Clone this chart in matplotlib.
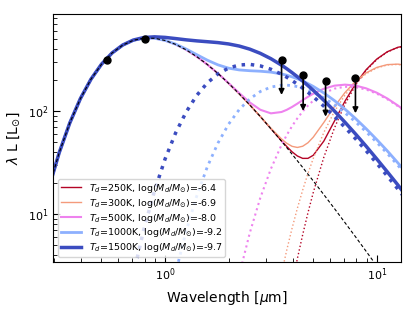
import numpy as np
import matplotlib
matplotlib.use('Agg')
from matplotlib import pyplot as plt

# wavelength grid [micron]
wave = [0.2818, 0.3162, 0.3548, 0.3981, 0.4467, 0.5012, 0.5623, 0.6310, 0.7079,
        0.7943, 0.8913, 1.0, 1.122, 1.259, 1.413, 1.585, 1.778, 1.995, 2.239,
        2.512, 2.818, 3.162, 3.548, 3.758, 3.981, 4.217, 4.467, 4.732, 5.012,
        5.623, 6.310, 7.079, 7.943, 8.913, 10.0, 11.22, 12.59, 14.13]

# stellar photosphere (black dashed)
star = [17.66, 39.39, 76.5, 131.6, 203.0, 284.1, 364.9, 434.6, 483.8, 507.8,
        506.0, 482.0, 441.4, 390.7, 335.6, 281.3, 230.8, 185.5, 146.8, 114.5,
        88.3, 67.3, 50.9, 44.1, 38.1, 32.9, 28.4, 24.4, 21.0, 15.46, 11.33,
        8.27, 6.02, 4.36, 3.15, 2.27, 1.64, 1.18]

# dust emission (dotted), 0 = negligible
dust_250 = [0]*22 + [0.55, 1.11, 2.08, 3.71, 6.32, 10.33, 16.2, 35.6, 68.4,
                     116.3, 177.8, 247.0, 315.0, 372.6, 412.5, 430.8]
dust_300 = [0]*20 + [0.20, 0.81, 2.66, 4.50, 7.31, 11.40, 17.1, 24.8, 34.7,
                     61.9, 98.9, 142.6, 188.2, 229.6, 261.0, 279.0, 282.6,
                     273.0]
dust_500 = [0]*16 + [0.23, 0.85, 2.57, 6.56, 14.4, 27.5, 46.8, 58.5, 71.3,
                     84.9, 98.9, 112.7, 125.9, 148.7, 164.5, 171.6, 170.1,
                     161.2, 147.1, 129.8, 111.2, 92.9]
dust_1000 = [0]*10 + [0.25, 0.90, 2.71, 6.92, 15.1, 28.9, 48.9, 74.4, 103.0,
                      130.9, 154.3, 170.5, 177.6, 177.8, 175.9, 172.1, 166.7,
                      159.8, 151.9, 133.9, 114.7, 95.8, 78.3, 62.8, 49.6, 38.7,
                      29.7, 22.6]
dust_1500 = [0]*5 + [0.039, 0.196, 0.79, 2.60, 7.17, 16.8, 34.2, 61.3, 98.0,
                     141.9, 187.4, 228.7, 260.5, 278.8, 282.7, 273.3, 253.6,
                     227.0, 212.3, 197.0, 181.7, 166.5, 151.7, 137.5, 111.3,
                     88.5, 69.4, 53.7, 41.1, 31.1, 23.4, 17.5, 12.9]

labels = [r'$T_d$=250K, log($M_d/M_{\odot}$)=-6.4',
          r'$T_d$=300K, log($M_d/M_{\odot}$)=-6.9',
          r'$T_d$=500K, log($M_d/M_{\odot}$)=-8.0',
          r'$T_d$=1000K, log($M_d/M_{\odot}$)=-9.2',
          r'$T_d$=1500K, log($M_d/M_{\odot}$)=-9.7']
colors = ['#b40426', '#f49a7b', 'violet', '#8db0fe', '#3b4cc0']
widths = [1.0, 1.0, 1.5, 2.0, 2.5]
dusts = [dust_250, dust_300, dust_500, dust_1000, dust_1500]

# photometry
phot_wave = [0.531, 0.805]
phot_lum = [312, 494]
# upper limits
ul_wave = [3.55, 4.49, 5.73, 7.93]
ul_lum = [312, 221, 195, 210]
ul_low = [143, 100, 88, 95]

plt.figure(figsize=(4.15, 3.11), dpi=100)
ax = plt.axes([0.128, 0.158, 0.838, 0.797])

w = np.array(wave)
s = np.array(star)
for d, c, lw, lab in zip(dusts, colors, widths, labels):
    d = np.array(d, dtype=float)
    ax.plot(w, s + d, color=c, lw=lw, label=lab)
    ax.plot(w, np.where(d > 0, d, np.nan), color=c, lw=lw, ls=':')

ax.plot(w, s, 'k--', lw=0.8, dashes=(3, 2))

ax.plot(phot_wave, phot_lum, 'ko', ms=5, zorder=5)
ax.plot(ul_wave, ul_lum, 'ko', ms=5, zorder=5)
for x, y, yl in zip(ul_wave, ul_lum, ul_low):
    ax.annotate('', xy=(x, yl), xytext=(x, y),
                arrowprops=dict(arrowstyle='-|>', color='k', lw=1.2,
                                mutation_scale=8, shrinkA=0, shrinkB=0),
                zorder=5)

ax.set_xscale('log')
ax.set_yscale('log')
ax.set_xlim(0.296, 13.0)
ax.set_ylim(3.45, 870)
ax.tick_params(which='both', direction='in', top=False, right=False,
               labelsize=8)
ax.tick_params(which='major', length=5)
ax.tick_params(which='minor', length=3)
ax.set_xlabel(r'Wavelength [$\mu$m]', fontsize=10)
ax.set_ylabel(r'$\lambda$ L [L$_{\odot}$]', fontsize=10)
ax.legend(loc='lower left', fontsize=6.8, labelspacing=0.2, borderpad=0.3,
          handlelength=2.2)

plt.savefig('out.png', dpi=100)
